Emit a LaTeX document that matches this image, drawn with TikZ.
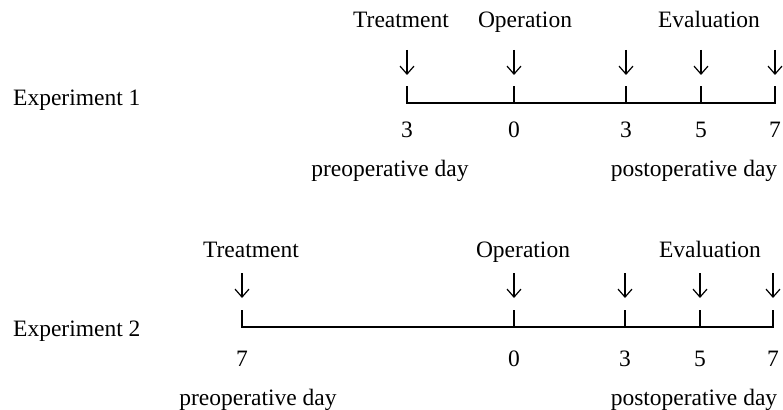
\documentclass[tikz,border=0pt]{standalone}
\usepackage{fontspec}
\setmainfont{Liberation Serif}
\usetikzlibrary{arrows.meta}
\begin{document}
\begin{tikzpicture}[x=1pt,y=-1pt,
  txt/.style={inner sep=0pt,anchor=base,font=\fontsize{23.5}{28}\selectfont},
  lbl/.style={txt,anchor=base west},
  darrow/.style={line width=1.2pt,-{Straight Barb[length=8pt,width=14pt,line width=1.2pt]}},
  axis/.style={line width=1.2pt,line cap=rect}]
\useasboundingbox (0,0) rectangle (783,409);

% ---------- Experiment 1 ----------
\node[lbl] (e1) at (13,106) {Experiment 1};
\node[txt] (t1) at (401,28) {Treatment};
\node[txt] (o1) at (525,28) {Operation};
\node[txt] (v1) at (709,28) {Evaluation};
\foreach \n/\x/\v in {a/407/3,b/514/0,c/626/3,d/701/5,e/775/7}{
  \coordinate (A1\n) at (\x,50);
  \coordinate (B1\n) at (\x,75);
  \coordinate (T1\n) at (\x,87);
  \coordinate (L1\n) at (\x,103);
  \node[txt] (n1\n) at (\x,137) {\v};
  \draw[darrow] (A1\n) -- (B1\n);
  \draw[axis] (T1\n) -- (L1\n);
}
\draw[axis] (L1a) -- (L1e);
\node[txt] (p1) at (390,176) {preoperative day};
\node[txt] (q1) at (694,176) {postoperative day};

% ---------- Experiment 2 ----------
\node[lbl] (e2) at (13,336) {Experiment 2};
\node[txt] (t2) at (251,257) {Treatment};
\node[txt] (o2) at (523,257) {Operation};
\node[txt] (v2) at (710,257) {Evaluation};
\foreach \n/\x/\v in {a/242/7,b/514/0,c/625/3,d/700/5,e/773/7}{
  \coordinate (A2\n) at (\x,273);
  \coordinate (B2\n) at (\x,298);
  \coordinate (T2\n) at (\x,311);
  \coordinate (L2\n) at (\x,327);
  \node[txt] (n2\n) at (\x,366) {\v};
  \draw[darrow] (A2\n) -- (B2\n);
  \draw[axis] (T2\n) -- (L2\n);
}
\draw[axis] (L2a) -- (L2e);
\node[txt] (p2) at (258,405) {preoperative day};
\node[txt] (q2) at (694,405) {postoperative day};
\end{tikzpicture}
\end{document}
